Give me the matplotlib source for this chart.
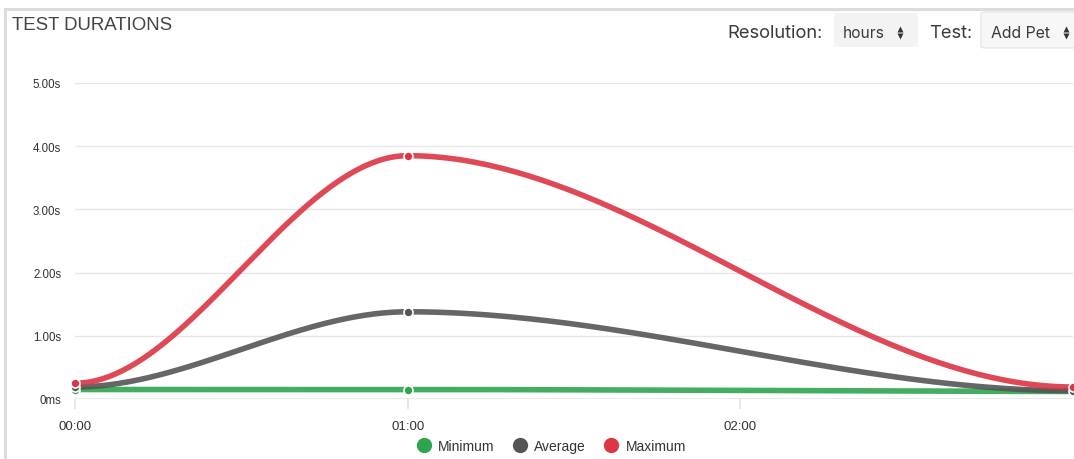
import numpy as np
import matplotlib
matplotlib.use("Agg")
import matplotlib.pyplot as plt
from matplotlib.patches import FancyBboxPatch
from matplotlib.lines import Line2D

# Sample times (hours since 00:00) and durations in seconds
hours = [0.0, 1.0, 3.0]
minimum = [0.15, 0.15, 0.12]
average = [0.19, 1.38, 0.13]
maximum = [0.25, 3.85, 0.19]

series_names = ["Minimum", "Average", "Maximum"]
series_colors = ["#2ea44f", "#555555", "#dc3545"]

y_ticks = [0, 1, 2, 3, 4, 5]
y_labels = ["0ms", "1.00s", "2.00s", "3.00s", "4.00s", "5.00s"]
x_ticks = [0, 1, 2]
x_labels = ["00:00", "01:00", "02:00"]


def flat_hermite(xs, ys, n=100):
    """Cubic Hermite segments with zero slope at every sample point."""
    out_x, out_y = [], []
    for i in range(len(xs) - 1):
        s = np.linspace(0, 1, n)
        if i > 0:
            s = s[1:]
        h = 3 * s ** 2 - 2 * s ** 3
        out_x.append(xs[i] + (xs[i + 1] - xs[i]) * s)
        out_y.append(ys[i] + (ys[i + 1] - ys[i]) * h)
    return np.concatenate(out_x), np.concatenate(out_y)


W, H = 1074, 460
fig = plt.figure(figsize=(W / 100, H / 100), dpi=100)
fig.patch.set_facecolor("white")

def fx(px):
    return px / W

def fy(py):
    return 1 - py / H

# Card border (top and left edges)
fig.add_artist(Line2D([fx(5), 1], [fy(10), fy(10)], color="#dcdcdc", lw=2.2))
fig.add_artist(Line2D([fx(5), fx(5)], [fy(10), 0], color="#dcdcdc", lw=2.2))

fig.text(fx(12), fy(25), "TEST DURATIONS", fontsize=13.4, color="#444444",
         family="Liberation Sans", va="center", ha="left")

# Controls in the header
fig.text(fx(727), fy(33), "Resolution:", fontsize=13.2, color="#3a3a3a",
         family="Inter", va="center", ha="left")
fig.add_artist(FancyBboxPatch((fx(834), fy(48)), fx(84), 34 / H,
                              boxstyle="round,pad=0,rounding_size=0.004",
                              facecolor="#f3f3f3", edgecolor="none"))
fig.text(fx(843), fy(33), "hours", fontsize=11.2, color="#3a3a3a",
         family="Inter", va="center", ha="left")
fig.text(fx(929), fy(33), "Test:", fontsize=13.2, color="#3a3a3a",
         family="Inter", va="center", ha="left")
fig.add_artist(FancyBboxPatch((fx(981), fy(49)), fx(100), 36 / H,
                              boxstyle="round,pad=0,rounding_size=0.004",
                              facecolor="#f7f7f7", edgecolor="#e2e2e2", lw=0.8))
fig.text(fx(991), fy(33), "Add Pet", fontsize=11.4, color="#3a3a3a",
         family="Inter", va="center", ha="left")
for ax_x in (fx(900), fx(1066)):
    fig.add_artist(Line2D([ax_x], [fy(29.5)], marker="^", ms=4.4,
                          color="#333333", mec="none"))
    fig.add_artist(Line2D([ax_x], [fy(36.5)], marker="v", ms=4.4,
                          color="#333333", mec="none"))

# Plot area: 00:00 at x=75 px, 03:00 at x=1073 px; 0 at y=400 px, 5s at y=84 px
x0_px, x3_px = 75, 1073
y0_px, y5_px = 400, 84
ax = fig.add_axes([fx(x0_px), fy(y0_px), (x3_px - x0_px) / W, (y0_px - y5_px) / H])
ax.set_xlim(0, 3)
ax.set_ylim(0, 5)
for s in ax.spines.values():
    s.set_visible(False)
ax.set_facecolor("none")

for yt in y_ticks[1:]:
    ax.axhline(yt, color="#e6e6e6", lw=1.0, zorder=0)
ax.axhline(0, color="#e3e3e3", lw=1.8, zorder=0)

ax.set_yticks(y_ticks)
ax.set_yticklabels(y_labels, fontsize=8.3, color="#333333", family="Liberation Sans")
ax.set_xticks(x_ticks)
ax.set_xticklabels(x_labels, fontsize=9.5, color="#333333", family="Liberation Sans")
ax.tick_params(axis="y", length=0, pad=10)
ax.tick_params(axis="x", length=7, width=1.2, color="#e3e3e3", pad=8)

for name, vals, col, z in zip(series_names, [minimum, average, maximum],
                              series_colors, [3, 4, 5]):
    sx, sy = flat_hermite(hours, vals)
    ax.plot(sx, sy, color=col, lw=4.0, alpha=0.9, solid_capstyle="butt",
            zorder=z, clip_on=False)
    ax.plot(hours, vals, "o", ms=6.5, color=col, mec="white", mew=1.2,
            zorder=z + 0.5, clip_on=False)

# Legend
handles = [Line2D([], [], marker="o", ls="none", ms=11, color=c, mec="none")
           for c in series_colors]
leg = fig.legend(handles, series_names, loc="center", bbox_to_anchor=(fx(548), fy(447)),
                 ncol=3, frameon=False, handletextpad=0.05, columnspacing=0.8,
                 prop={"family": "Liberation Sans", "size": 10})
for t in leg.get_texts():
    t.set_color("#333333")

fig.savefig("out.png", dpi=100, facecolor="white")
